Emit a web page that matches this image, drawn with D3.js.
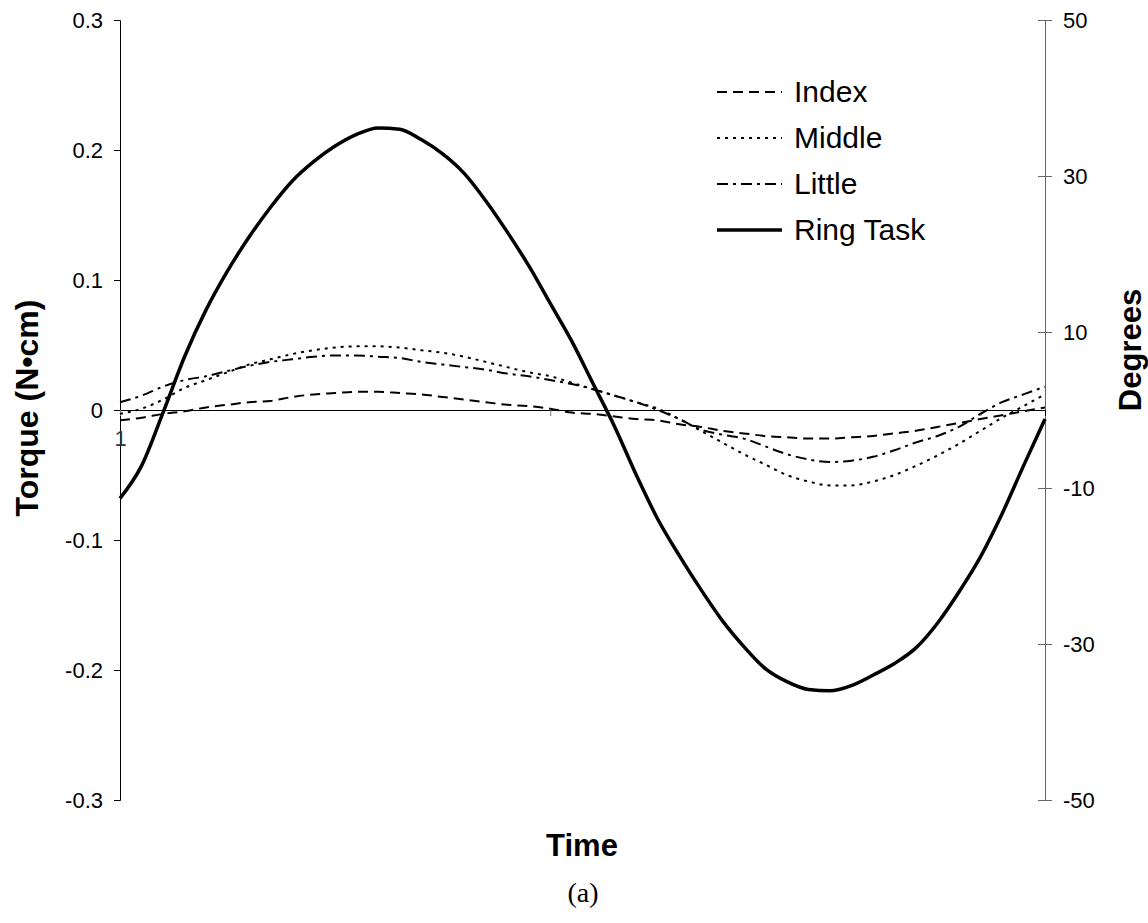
<!DOCTYPE html>
<html>
<head>
<meta charset="utf-8">
<script src="https://cdn.jsdelivr.net/npm/d3@7"></script>
<style>
  body { margin: 0; background: #fff; }
  text { font-family: "Liberation Sans", Arial, sans-serif; }
</style>
</head>
<body>
<svg id="svgChart" width="1148" height="923"></svg>
<script>
// time samples (category axis)
var time = [1,2,3,4,5,6,7,8,9,10,11,12,13,14,15,16,17,18,19,20,21,22,
            23,24,25,26,27,28,29,30,31,32,33,34,35,36,37,38,39,40,41,42,43,44];

// torque values (N.cm)
var index = [-0.008,-0.006,-0.003,-0.001,0.002,0.004,0.006,0.007,0.010,0.012,0.013,
             0.014,0.014,0.013,0.012,0.010,0.008,0.006,0.004,0.003,0.001,-0.002,
             -0.003,-0.005,-0.007,-0.008,-0.011,-0.013,-0.016,-0.018,-0.020,-0.021,
             -0.022,-0.022,-0.021,-0.020,-0.018,-0.016,-0.013,-0.010,-0.007,-0.004,-0.001,0.002];
var middle = [-0.003,0.001,0.008,0.017,0.023,0.029,0.035,0.039,0.043,0.046,0.048,
              0.049,0.049,0.048,0.046,0.044,0.041,0.037,0.033,0.029,0.026,0.021,
              0.016,0.011,0.006,0.001,-0.007,-0.016,-0.025,-0.034,-0.042,-0.050,
              -0.055,-0.058,-0.058,-0.055,-0.050,-0.043,-0.035,-0.026,-0.016,-0.006,0.003,0.012];
var little = [0.006,0.011,0.018,0.023,0.026,0.030,0.034,0.037,0.039,0.041,0.042,
              0.042,0.041,0.040,0.037,0.035,0.033,0.031,0.028,0.026,0.023,0.020,
              0.016,0.011,0.006,0.000,-0.007,-0.015,-0.019,-0.022,-0.028,-0.034,
              -0.038,-0.040,-0.039,-0.036,-0.031,-0.025,-0.020,-0.013,-0.003,0.006,0.012,0.018];
var ringTask = [-0.068,-0.043,-0.002,0.041,0.077,0.107,0.133,0.156,0.176,0.191,0.203,
                0.212,0.217,0.216,0.208,0.197,0.182,0.161,0.137,0.111,0.082,0.053,
                0.020,-0.013,-0.050,-0.084,-0.112,-0.138,-0.162,-0.182,-0.199,-0.209,
                -0.215,-0.216,-0.212,-0.204,-0.195,-0.183,-0.164,-0.140,-0.113,-0.080,-0.043,-0.007];

// axis ticks
var torqueTicks = [-0.3,-0.2,-0.1,0,0.1,0.2,0.3];
var degreeTicks = [-50,-30,-10,10,30,50];
var timeTicks = [1,21,41];
var timeLabels = {1: "1"};

var seriesNames = ["Index","Middle","Little","Ring Task"];

class Chart {
    constructor() {
        this.series = [
            {name: seriesNames[0], values: index,    dash: "10,6",      width: 2},
            {name: seriesNames[1], values: middle,   dash: "3,5",       width: 2},
            {name: seriesNames[2], values: little,   dash: "11,5,3,5",  width: 2},
            {name: seriesNames[3], values: ringTask, dash: null,        width: 3.5}
        ];
        this.draw();
    }

    draw() {
        this.margin = {top: 20, right: 103, bottom: 123, left: 120};
        this.width = 1148 - this.margin.left - this.margin.right;
        this.height = 923 - this.margin.top - this.margin.bottom;

        this.svg = d3.select("#svgChart");
        this.g = this.svg.append("g")
            .attr("transform", "translate(" + this.margin.left + "," + this.margin.top + ")");

        this.createScales();
        this.addAxes();
        this.addLines();
        this.addLegend();
        this.addTitles();
    }

    createScales() {
        this.x = d3.scalePoint()
            .domain(time)
            .range([0, this.width]);

        this.y = d3.scaleLinear()
            .domain([-0.3, 0.3])
            .range([this.height, 0]);

        // secondary axis, degrees
        this.y2 = d3.scaleLinear()
            .domain([-50, 50])
            .range([this.height, 0]);
    }

    addAxes() {
        var fmt = function(d) { return d === 0 ? "0" : d3.format(".1f")(d).replace("\u2212", "-"); };

        var yAxis = d3.axisLeft(this.y)
            .tickValues(torqueTicks)
            .tickFormat(fmt)
            .tickSize(6)
            .tickPadding(11);

        var left = this.g.append("g")
            .attr("class", "y axis")
            .call(yAxis);
        left.select(".domain").attr("stroke", "#000");
        left.selectAll(".tick line").attr("stroke", "#000");
        left.selectAll("text")
            .style("font-size", "22px")
            .attr("fill", "#000");

        var y2Axis = d3.axisRight(this.y2)
            .tickValues(degreeTicks)
            .tickFormat(function(d) { return String(d); })
            .tickSize(7)
            .tickPadding(11);

        var right = this.g.append("g")
            .attr("class", "y2 axis")
            .attr("transform", "translate(" + this.width + ",0)")
            .call(y2Axis);
        right.select(".domain").attr("stroke", "#666");
        right.selectAll(".tick line").attr("stroke", "#666").attr("x1", -7);
        right.selectAll("text")
            .style("font-size", "22px")
            .attr("fill", "#000");

        // time axis sits on zero torque
        var xAxis = d3.axisBottom(this.x)
            .tickValues(timeTicks)
            .tickFormat(function(d) { return timeLabels[d] || ""; })
            .tickSizeOuter(0)
            .tickSize(6)
            .tickPadding(14);

        var bottom = this.g.append("g")
            .attr("class", "x axis")
            .attr("transform", "translate(0," + this.y(0) + ")")
            .call(xAxis);
        bottom.select(".domain").attr("stroke", "#000");
        bottom.selectAll(".tick line").attr("stroke", "#777");
        bottom.selectAll("text")
            .style("font-size", "22px")
            .attr("fill", "#333");
    }

    addLines() {
        var x = this.x;
        var y = this.y;

        var line = d3.line()
            .x(function(d, i) { return x(time[i]); })
            .y(function(d) { return y(d); })
            .curve(d3.curveMonotoneX);

        this.g.selectAll(".series")
            .data(this.series)
            .enter()
            .append("path")
            .attr("class", "series")
            .attr("d", function(s) { return line(s.values); })
            .attr("fill", "none")
            .attr("stroke", "#000")
            .attr("stroke-width", function(s) { return s.width; })
            .attr("stroke-dasharray", function(s) { return s.dash; })
            .attr("stroke-linejoin", "round");
    }

    addLegend() {
        var legend = this.svg.append("g")
            .attr("class", "legend")
            .attr("transform", "translate(717,92)");

        var rows = legend.selectAll("g")
            .data(this.series)
            .enter()
            .append("g")
            .attr("transform", function(s, i) { return "translate(0," + (i * 46) + ")"; });

        rows.append("line")
            .attr("x1", 0).attr("x2", 65)
            .attr("y1", 0).attr("y2", 0)
            .attr("stroke", "#000")
            .attr("stroke-width", function(s) { return s.width; })
            .attr("stroke-dasharray", function(s) { return s.dash; });

        rows.append("text")
            .attr("x", 77)
            .attr("y", 10)
            .style("font-size", "30px")
            .text(function(s) { return s.name; });
    }

    addTitles() {
        this.svg.append("text")
            .attr("transform", "translate(38,408) rotate(-90)")
            .attr("text-anchor", "middle")
            .style("font-size", "32px")
            .style("font-weight", "bold")
            .text("Torque (N\u2022cm)");

        this.svg.append("text")
            .attr("transform", "translate(1141,350) rotate(-90)")
            .attr("text-anchor", "middle")
            .style("font-size", "31px")
            .style("font-weight", "bold")
            .text("Degrees");

        this.svg.append("text")
            .attr("x", 582)
            .attr("y", 856)
            .attr("text-anchor", "middle")
            .style("font-size", "31px")
            .style("font-weight", "bold")
            .text("Time");

        this.svg.append("text")
            .attr("x", 583)
            .attr("y", 902)
            .attr("text-anchor", "middle")
            .style("font-family", "'Liberation Serif', 'Times New Roman', serif")
            .style("font-size", "28px")
            .text("(a)");
    }
}

new Chart();
</script>
</body>
</html>
